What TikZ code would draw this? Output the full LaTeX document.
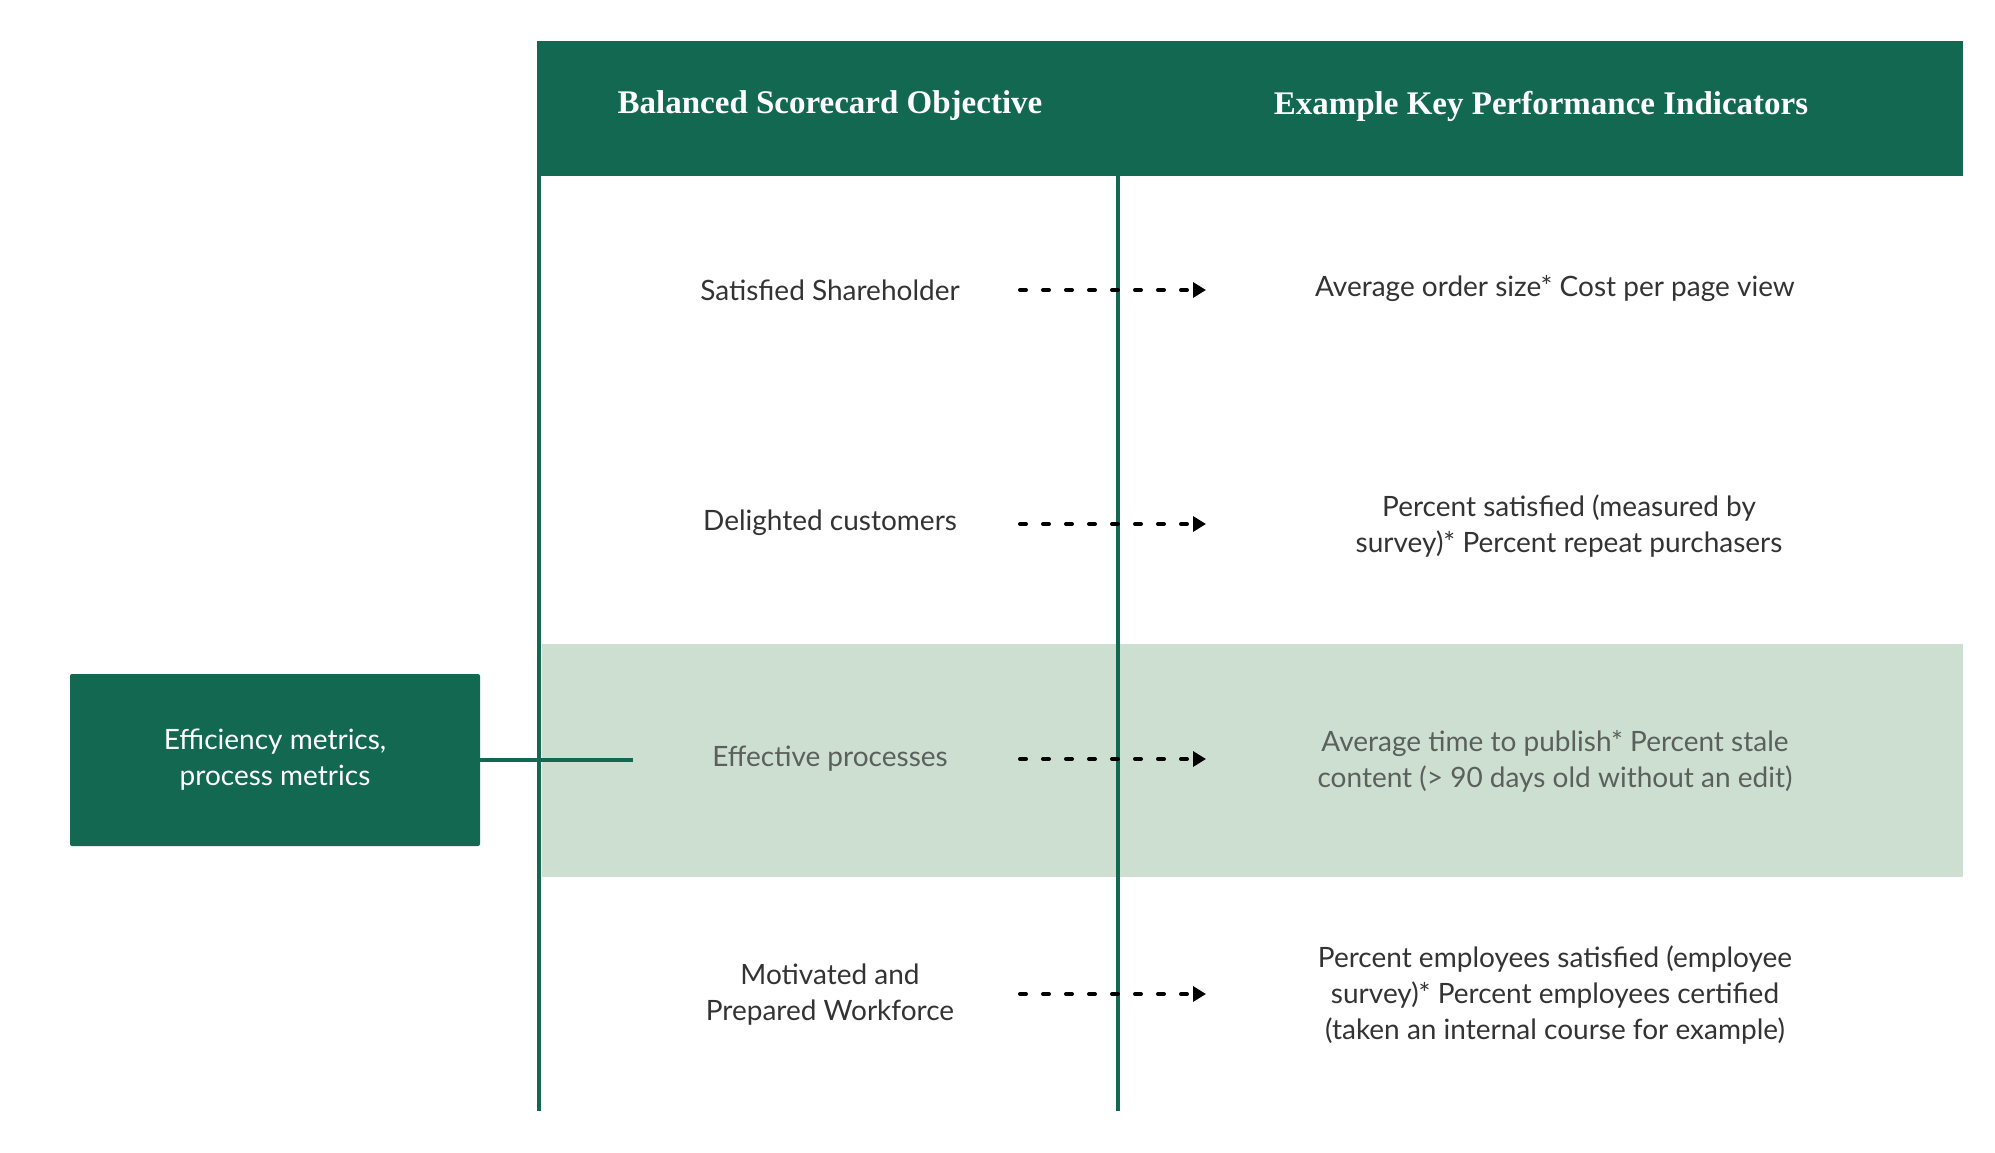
\documentclass[tikz,border=0pt]{standalone}
\usepackage{fontspec}
\setmainfont{Lato}
\newfontfamily\headfont{Liberation Serif}
\usepackage{xcolor}
\usetikzlibrary{arrows.meta}
\definecolor{scgreen}{HTML}{136852}
\definecolor{scband}{HTML}{CDDFD0}
\definecolor{sctext}{HTML}{333333}
\definecolor{scgray}{HTML}{5B605D}

\begin{document}
\begin{tikzpicture}[x=1pt,y=-1pt,
    celltext/.style={font=\fontsize{28}{36}\selectfont, text=sctext, align=center},
    headtext/.style={font=\headfont\bfseries\fontsize{33}{38}\selectfont, text=white},
    rule/.style={draw=scgreen, line width=4.5pt},
    dotarrow/.style={line width=4pt, line cap=round, dash pattern=on 6pt off 17pt,
        -{Triangle[length=13pt,width=15pt]}}]
    \useasboundingbox (0,0) rectangle (1995,1152);

    % header and highlighted row
    \fill[scgreen] (537,41) rectangle (1963,176);
    \fill[scband] (542,644) rectangle (1963,877);
    \node[headtext] (h1) at (830,106) {Balanced Scorecard Objective};
    \node[headtext] (h2) at (1541,106) {Example Key Performance Indicators};

    % column rules
    \coordinate (l0) at (539,174);
    \coordinate (l1) at (539,1111);
    \coordinate (m0) at (1118,174);
    \coordinate (m1) at (1118,1111);
    \draw[rule] (l0) -- (l1);
    \draw[rule] (m0) -- (m1);

    % objectives
    \node[celltext] (o1) at (830,290) {Satisfied Shareholder};
    \node[celltext] (o2) at (830,523) {Delighted customers};
    \node[celltext, text=scgray] (o3) at (830,759) {Effective processes};
    \node[celltext] (o4) at (830,995) {Motivated and\\Prepared Workforce};

    % indicators
    \node[celltext] (k1) at (1555,289) {Average order size* Cost per page view};
    \node[celltext] (k2) at (1569,526) {Percent satisfied (measured by\\survey)* Percent repeat purchasers};
    \node[celltext, text=scgray] (k3) at (1555,761) {Average time to publish* Percent stale\\content (> 90 days old without an edit)};
    \node[celltext] (k4) at (1555,995) {Percent employees satisfied (employee\\survey)* Percent employees certified\\(taken an internal course for example)};

    % dotted arrows
    \foreach \y [count=\i] in {290,524,759,994} {
        \coordinate (s\i) at (1020,\y);
        \coordinate (e\i) at (1206,\y);
        \draw[dotarrow] (s\i) -- (e\i);
    }

    % side box
    \node[fill=scgreen, rounded corners=2pt, minimum width=410pt, minimum height=172pt,
        text=white, align=center, font=\fontsize{28}{36}\selectfont] (eff) at (275,760)
        {Efficiency metrics,\\process metrics};
    \coordinate (tap) at (633,760);
    \draw[draw=scgreen, line width=4pt] (eff.east) -- (tap);
\end{tikzpicture}
\end{document}
